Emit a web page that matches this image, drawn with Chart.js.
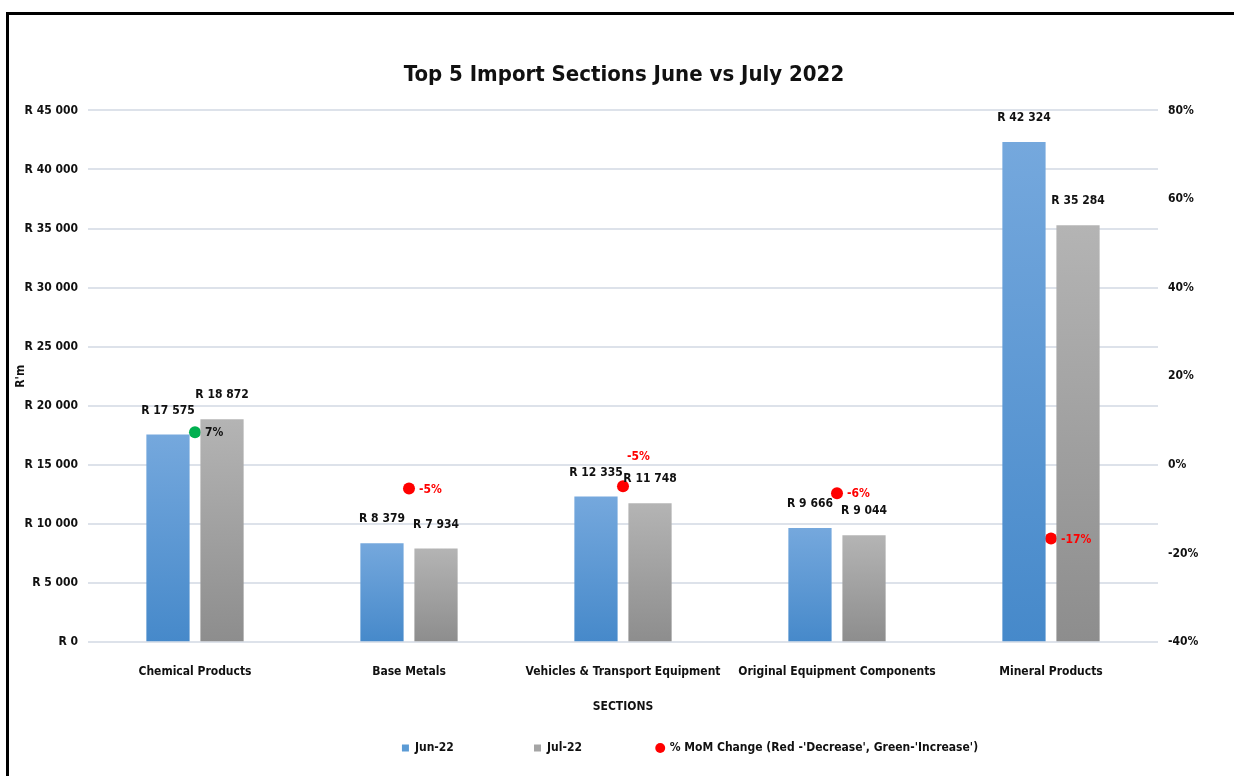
<!DOCTYPE html>
<html>
<head>
<meta charset="utf-8">
<script src="https://cdn.jsdelivr.net/npm/chart.js@4.4.1/dist/chart.umd.min.js"></script>
<style>
  body { margin: 0; background: #fff; }
  #wrap { position: relative; width: 1234px; height: 776px; overflow: hidden; }
  #frame { position: absolute; left: 6px; top: 12px; width: 1400px; height: 900px;
           border-left: 3px solid #000; border-top: 3px solid #000; pointer-events: none; }
  canvas { position: absolute; left: 0; top: 0; }
</style>
</head>
<body>
<div id="wrap">
  <canvas id="importsChart" width="1234" height="776"></canvas>
  <div id="frame"></div>
</div>
<script>
const sections = ['Chemical Products', 'Base Metals', 'Vehicles & Transport Equipment', 'Original Equipment Components', 'Mineral Products'];
const jun22 = [17575, 8379, 12335, 9666, 42324];
const jul22 = [18872, 7934, 11748, 9044, 35284];
const momChange = [7.4, -5.3, -4.8, -6.4, -16.6];
const momLabels = ['7%', '-5%', '-5%', '-6%', '-17%'];

const FONT = "'DejaVu Sans Condensed', 'Liberation Sans Narrow', sans-serif";

function rands(v) {
    return 'R ' + String(v).replace(/\B(?=(\d{3})+(?!\d))/g, ' ');
}

function barGradient(top, bottom) {
    return function(context) {
        const chart = context.chart;
        if (!chart.chartArea || context.raw === undefined) return bottom;
        const yTop = chart.scales.y.getPixelForValue(context.raw);
        const g = chart.ctx.createLinearGradient(0, yTop, 0, chart.chartArea.bottom);
        g.addColorStop(0, top);
        g.addColorStop(1, bottom);
        return g;
    };
}

// value labels above the bars and beside the % points
const labelPlugin = {
    id: 'valueLabels',
    afterLayout(chart) {
        // legend sits right of centre in the original
        chart.legend.left += 66;
        chart.legend.right += 66;
    },
    afterDatasetsDraw(chart) {
        const ctx = chart.ctx;
        ctx.save();
        ctx.font = 'bold 12px ' + FONT;
        ctx.textAlign = 'center';
        ctx.textBaseline = 'middle';
        ctx.fillStyle = '#111';
        [0, 1].forEach(di => {
            chart.getDatasetMeta(di).data.forEach((bar, i) => {
                const v = chart.data.datasets[di].data[i];
                ctx.fillText(rands(v), bar.x, bar.y - 24);
            });
        });
        chart.getDatasetMeta(2).data.forEach((pt, i) => {
            const up = momChange[i] >= 0;
            ctx.fillStyle = up ? '#111' : '#ff0000';
            ctx.textAlign = 'left';
            if (i === 2) {
                ctx.fillText(momLabels[i], pt.x + 4, pt.y - 29);
            } else {
                ctx.fillText(momLabels[i], pt.x + 10, pt.y + 1);
            }
        });
        ctx.restore();
    }
};

const legendColors = ['#5b9bd5', '#a5a5a5', '#ff0000'];
const legendGaps = ['\u2003\u2003\u2003\u2003\u2003\u2003\u2002', '\u2003\u2003\u2003\u2003\u2003\u2003', ''];

const ctx = document.getElementById('importsChart').getContext('2d');
new Chart(ctx, {
    type: 'bar',
    data: {
        labels: sections,
        datasets: [
            {
                label: 'Jun-22',
                data: jun22,
                backgroundColor: barGradient('#75a8dd', '#4689ca'),
                borderWidth: 0,
                categoryPercentage: 0.505,
                barPercentage: 0.8,
                pointStyle: 'rect',
                yAxisID: 'y'
            },
            {
                label: 'Jul-22',
                data: jul22,
                backgroundColor: barGradient('#b4b4b4', '#8d8d8d'),
                borderWidth: 0,
                categoryPercentage: 0.505,
                barPercentage: 0.8,
                pointStyle: 'rect',
                yAxisID: 'y'
            },
            {
                type: 'line',
                label: "% MoM Change (Red -'Decrease', Green-'Increase')",
                data: momChange,
                showLine: false,
                yAxisID: 'y1',
                pointStyle: 'circle',
                pointRadius: 6,
                pointHoverRadius: 6,
                pointBackgroundColor: momChange.map(v => v >= 0 ? '#00b050' : '#ff0000'),
                pointBorderWidth: 0,
                backgroundColor: '#ff0000',
                borderColor: '#ff0000'
            }
        ]
    },
    options: {
        responsive: false,
        animation: false,
        layout: { padding: { left: 14, right: 0, top: 14, bottom: 12 } },
        plugins: {
            title: {
                display: true,
                text: 'Top 5 Import Sections June vs July 2022',
                color: '#111',
                font: { family: FONT, size: 22, weight: 'bold' },
                padding: { top: 48, bottom: 22 }
            },
            legend: {
                position: 'bottom',
                labels: {
                    color: '#111',
                    font: { family: FONT, size: 12, weight: 'bold' },
                    usePointStyle: true,
                    boxWidth: 7,
                    boxHeight: 7,
                    padding: 10,
                    sort: (a, b) => a.datasetIndex - b.datasetIndex,
                    generateLabels(chart) {
                        const items = Chart.defaults.plugins.legend.labels.generateLabels(chart);
                        items.forEach(it => {
                            it.text = it.text + legendGaps[it.datasetIndex];
                            it.fillStyle = legendColors[it.datasetIndex];
                            it.strokeStyle = it.fillStyle;
                            it.lineWidth = 0;
                        });
                        return items;
                    }
                }
            },
            tooltip: { enabled: false }
        },
        scales: {
            x: {
                grid: { display: false },
                border: { display: false },
                ticks: { color: '#111', font: { family: FONT, size: 12, weight: 'bold' }, padding: 14, maxRotation: 0, autoSkip: false },
                title: {
                    display: true,
                    text: 'SECTIONS',
                    color: '#111',
                    font: { family: FONT, size: 12, weight: 'bold' },
                    padding: { top: 7, bottom: 18 }
                }
            },
            y: {
                position: 'left',
                min: 0,
                max: 45000,
                ticks: {
                    stepSize: 5000,
                    color: '#111',
                    padding: 10,
                    font: { family: FONT, size: 12, weight: 'bold' },
                    callback: v => rands(v)
                },
                grid: { color: '#dde2ea', lineWidth: 2, drawTicks: false },
                border: { display: false },
                title: {
                    display: true,
                    text: "R'm",
                    color: '#111',
                    font: { family: FONT, size: 12, weight: 'bold' },
                    padding: { top: 0, bottom: 4 }
                },
                afterFit(scale) { scale.width = 74; }
            },
            y1: {
                position: 'right',
                min: -40,
                max: 80,
                ticks: {
                    stepSize: 20,
                    color: '#111',
                    padding: 10,
                    font: { family: FONT, size: 12, weight: 'bold' },
                    callback: v => v + '%'
                },
                grid: { display: false, drawTicks: false },
                border: { display: false },
                afterFit(scale) { scale.width = 76; }
            }
        }
    },
    plugins: [labelPlugin]
});
</script>
</body>
</html>
